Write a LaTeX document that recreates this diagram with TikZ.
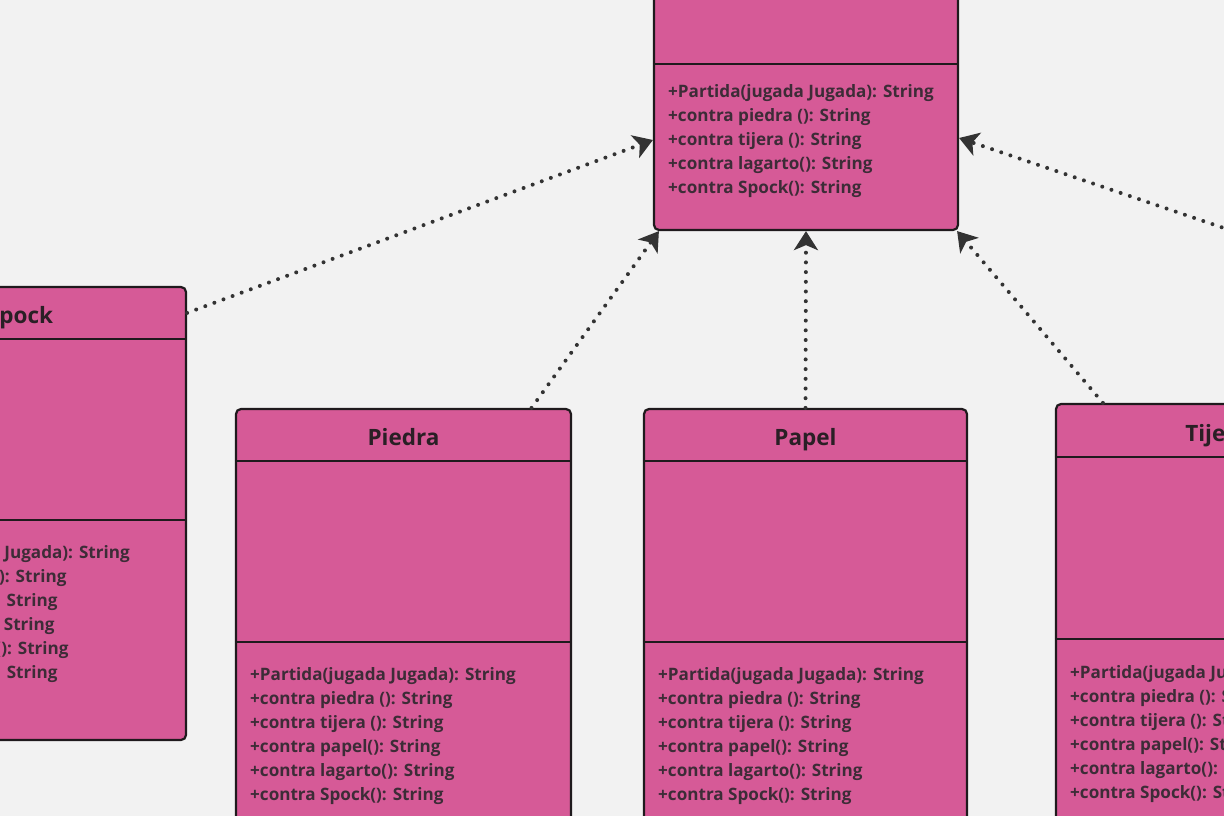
\documentclass[tikz,border=0pt]{standalone}
\usepackage{fontspec}
\setmainfont{Open Sans}
\usetikzlibrary{positioning, arrows.meta}
\usepackage{xcolor}
\definecolor{bgcol}{HTML}{F2F2F2}
\definecolor{classpink}{HTML}{D65A97}
\definecolor{classline}{HTML}{1F1A1D}
\definecolor{methtext}{HTML}{3D2C37}
\definecolor{titletext}{HTML}{2A1F25}
\definecolor{arrowcol}{HTML}{333333}

\begin{document}
\begin{tikzpicture}[x=1pt, y=-1pt]

            % Estilos para las clases y las flechas
            \tikzstyle{classbox} = [rectangle, draw=classline, line width=2.2pt, fill=classpink,
                                    rounded corners=5pt, inner sep=0pt]
            \tikzstyle{divider} = [draw=classline, line width=2.2pt]
            \tikzstyle{classtitle} = [anchor=base, inner sep=0pt, text=titletext, font=\fontsize{22.5}{26}\selectfont\bfseries]
            \tikzstyle{methods} = [anchor=north west, inner sep=0pt, align=left, text=methtext,
                                   font=\fontsize{17.1}{24}\selectfont\bfseries]
            \tikzstyle{realize} = [draw=arrowcol, line width=4pt, line cap=round,
                                   dash pattern=on 0pt off 9.7pt,
                                   -{Stealth[length=19pt, width=24pt, inset=5pt, line cap=butt]}]

            % Fondo y recorte
            \useasboundingbox (0,0) rectangle (1224,816);
            \fill[bgcol] (0,0) rectangle (1224,816);
            \clip (0,0) rectangle (1224,816);

            % Interfaz (arriba)
            \node[classbox, minimum width=304pt, minimum height=270pt] (iface) at (806,95) {};
            \draw[divider] (iface.west |- 0,64) -- (iface.east |- 0,64);
            \node[methods] (ifacem) at (668,84) {+Partida(jugada Jugada): String \\ +contra piedra (): String \\
                +contra tijera (): String \\ +contra lagarto(): String \\ +contra Spock(): String};

            % Spock
            \node[classbox, minimum width=336pt, minimum height=453pt] (spock) at (18,513.5) {};
            \node[classtitle] (spockt) at (20,323) {Spock};
            \draw[divider] (spock.west |- 0,339) -- (spock.east |- 0,339);
            \draw[divider] (spock.west |- 0,520) -- (spock.east |- 0,520);
            \node[methods] (spockm) at (-136,545) {+Partida(jugada Jugada): String \\ +contra piedra (): String \\
                +contra tijera (): String \\ +contra papel(): String \\ +contra lagarto(): String \\ +contra Spock(): String};

            % Piedra
            \node[classbox, minimum width=335pt, minimum height=453pt] (piedra) at (403.5,635.5) {};
            \node[classtitle] (piedrat) at (403.5,445) {Piedra};
            \draw[divider] (piedra.west |- 0,461) -- (piedra.east |- 0,461);
            \draw[divider] (piedra.west |- 0,642) -- (piedra.east |- 0,642);
            \node[methods] (piedram) at (250,667) {+Partida(jugada Jugada): String \\ +contra piedra (): String \\
                +contra tijera (): String \\ +contra papel(): String \\ +contra lagarto(): String \\ +contra Spock(): String};

            % Papel
            \node[classbox, minimum width=323pt, minimum height=453pt] (papel) at (805.5,635.5) {};
            \node[classtitle] (papelt) at (805.5,445) {Papel};
            \draw[divider] (papel.west |- 0,461) -- (papel.east |- 0,461);
            \draw[divider] (papel.west |- 0,642) -- (papel.east |- 0,642);
            \node[methods] (papelm) at (658,667) {+Partida(jugada Jugada): String \\ +contra piedra (): String \\
                +contra tijera (): String \\ +contra papel(): String \\ +contra lagarto(): String \\ +contra Spock(): String};

            % Tijera
            \node[classbox, minimum width=334pt, minimum height=453pt] (tijera) at (1223,630.5) {};
            \node[classtitle] (tijerat) at (1217,441) {Tijera};
            \draw[divider] (tijera.west |- 0,457) -- (tijera.east |- 0,457);
            \draw[divider] (tijera.west |- 0,639) -- (tijera.east |- 0,639);
            \node[methods] (tijeram) at (1070,665) {+Partida(jugada Jugada): String \\ +contra piedra (): String \\
                +contra tijera (): String \\ +contra papel(): String \\ +contra lagarto(): String \\ +contra Spock(): String};

            % Flechas de realizacion
            \coordinate (lagartoin) at (1240,233.5);
            \draw[realize] ([yshift=-27pt]spock.north east) -- ([yshift=-45pt]iface.west);
            \draw[realize] ([xshift=128pt]piedra.north) -- ([xshift=6pt]iface.south west);
            \draw[realize] (papel.north) -- (iface.south);
            \draw[realize] ([xshift=48pt]tijera.north west) -- ([xshift=-2pt]iface.south east);
            \draw[realize] (lagartoin) -- ([yshift=-43pt]iface.east);

        \end{tikzpicture}
\end{document}
